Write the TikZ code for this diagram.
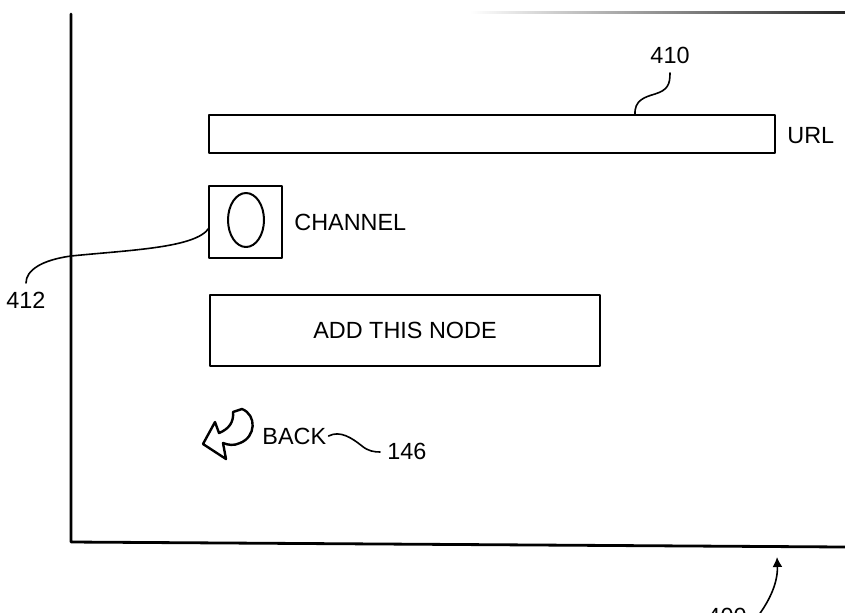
\documentclass[tikz,border=0pt]{standalone}
\usepackage{fontspec}
\setmainfont{Liberation Sans}
\usetikzlibrary{shapes.geometric,arrows.meta}
\begin{document}
\begin{tikzpicture}[x=0.5pt,y=-0.5pt,
  line cap=round, line join=round,
  lbl/.style={font=\fontsize{11.7}{14}\selectfont, inner sep=0pt},
  uibox/.style={draw, line width=1pt, inner sep=0pt},
  frameline/.style={line width=1.4pt},
  leader/.style={line width=0.8pt}]
\useasboundingbox (0,0) rectangle (845,612);
% frame
\coordinate (ftl) at (71,14);
\coordinate (fbl) at (71,542);
\coordinate (fbr) at (845,547);
\draw[frameline] (ftl) -- (fbl) -- (fbr);
\shade[left color=white, right color=black!85] (470,11) rectangle (845,13);
% URL field
\node (url) [uibox, minimum width=283pt, minimum height=19pt] at (492,134) {};
\node (urltxt) [lbl, anchor=west] at (787,136) {URL};
\node (n410) [lbl] at (670,55) {410};
\coordinate (u410) at (635,115);
\coordinate (t410) at (670,73);
\draw[leader] (u410) .. controls (634,100) and (645,97) .. (655,94) .. controls (668,90) and (670,84) .. (t410);
% channel
\node (chbox) [uibox, minimum width=36.5pt, minimum height=36pt] at (245.5,222) {};
\node (chell) [draw, ellipse, line width=1pt, inner sep=0pt, minimum width=18pt, minimum height=27pt] at (246,220) {};
\node (chtxt) [lbl, anchor=west] at (294,222) {CHANNEL};
\node (n412) [lbl] at (26,300) {412};
\coordinate (c412) at (209,228);
\coordinate (t412) at (26,283);
\draw[leader] (c412) .. controls (196,248) and (130,250) .. (71,256) .. controls (42,260) and (26,270) .. (t412);
% add node button
\node (add) [uibox, minimum width=195pt, minimum height=35.5pt, font=\fontsize{11.7}{14}\selectfont] at (405,330.5) {ADD THIS NODE};
% back
\draw[line width=1.2pt] (203,444) -- (215,422) -- (219,433)
  .. controls (229,429) and (234,422) .. (233,412) -- (242,409)
  .. controls (257,415) and (256,437) .. (240,443)
  .. controls (234,446) and (228,445) .. (223,443) -- (226,459) -- cycle;
\node (back) [lbl, anchor=west] at (262,436) {BACK};
\node (n146) [lbl, anchor=west] at (387,451) {146};
\coordinate (t146) at (380,452);
\draw[leader] ([xshift=1pt]back.east) .. controls (340,430) and (352,438) .. (362,446) .. controls (368,451) and (374,452) .. (t146);
% 400
\node (n400) [lbl] at (727,616) {400};
\coordinate (a400s) at (758,616);
\coordinate (a400e) at (777,557);
\draw[leader, -{Latex[length=5pt,width=5pt]}] (a400s) .. controls (770,600) and (778,582) .. (a400e);
\end{tikzpicture}
\end{document}
